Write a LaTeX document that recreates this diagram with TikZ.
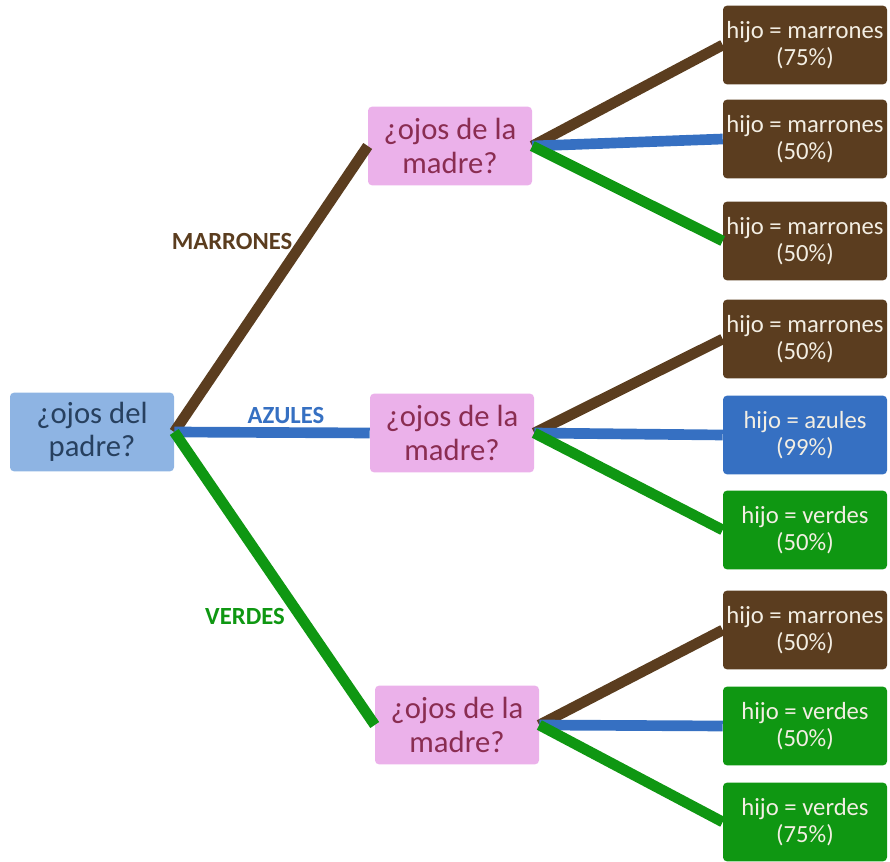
\documentclass[tikz,border=0pt]{standalone}
\usepackage{fontspec}
\setmainfont{Carlito}
\definecolor{marron}{HTML}{5B3D1F}
\definecolor{azul}{HTML}{3670C2}
\definecolor{verde}{HTML}{0F9712}
\definecolor{padrefill}{HTML}{8EB4E3}
\definecolor{padretext}{HTML}{27405F}
\definecolor{madrefill}{HTML}{EBB1EA}
\definecolor{madretext}{HTML}{8A2D52}
\definecolor{hijotext}{HTML}{F3EEE3}

\begin{document}
\begin{tikzpicture}[x=0.75pt,y=-0.75pt]
  \tikzset{
    caja/.style={rounded corners=3pt, align=center, inner sep=0pt,
      minimum width=123pt, minimum height=59pt},
    padrebox/.style={caja, fill=padrefill, text=padretext,
      font=\fontsize{23}{25}\selectfont},
    madrebox/.style={caja, fill=madrefill, text=madretext,
      font=\fontsize{23}{25}\selectfont},
    hijobox/.style={caja, text=hijotext, font=\fontsize{18.5}{20.5}\selectfont},
    rama/.style={line width=8pt},
    etiqueta/.style={font=\fontsize{18.5}{20}\selectfont\bfseries}
  }
  \useasboundingbox (0,0) rectangle (890,862);

  % ---------- padre and madre questions ----------
  \node[padrebox] (padre) at (92,432) {¿ojos del\\padre?};
  \node[madrebox] (madreA) at (450,146) {¿ojos de la\\madre?};
  \node[madrebox] (madreB) at (452,433) {¿ojos de la\\madre?};
  \node[madrebox] (madreC) at (457,725) {¿ojos de la\\madre?};

  % ---------- hijo results: name / y / colour / text ----------
  \foreach \n/\y/\c/\t in {
      hA1/45/marron/{hijo = marrones\\(75\%)},
      hA2/139/marron/{hijo = marrones\\(50\%)},
      hA3/241/marron/{hijo = marrones\\(50\%)},
      hB1/339/marron/{hijo = marrones\\(50\%)},
      hB2/435/azul/{hijo = azules\\(99\%)},
      hB3/530/verde/{hijo = verdes\\(50\%)},
      hC1/630/marron/{hijo = marrones\\(50\%)},
      hC2/726/verde/{hijo = verdes\\(50\%)},
      hC3/822/verde/{hijo = verdes\\(75\%)}}
    \node[hijobox, fill=\c] (\n) at (805,\y) {\t};

  % ---------- branches ----------
  \draw[rama, marron] (padre.east) -- (madreA.west);
  \draw[rama, azul] (padre.east) -- (madreB.west);
  \draw[rama, verde] (padre.east) -- (madreC.west);
  \foreach \m/\k in {madreA/hA, madreB/hB, madreC/hC} {
    \draw[rama, marron] (\m.east) -- (\k1.west);
    \draw[rama, azul] (\m.east) -- (\k2.west);
    \draw[rama, verde] (\m.east) -- (\k3.west);
  }

  \node[etiqueta, marron] (lblmarrones) at (232,242) {MARRONES};
  \node[etiqueta, azul] (lblazules) at (286,416) {AZULES};
  \node[etiqueta, verde] (lblverdes) at (245,616) {VERDES};
\end{tikzpicture}
\end{document}
